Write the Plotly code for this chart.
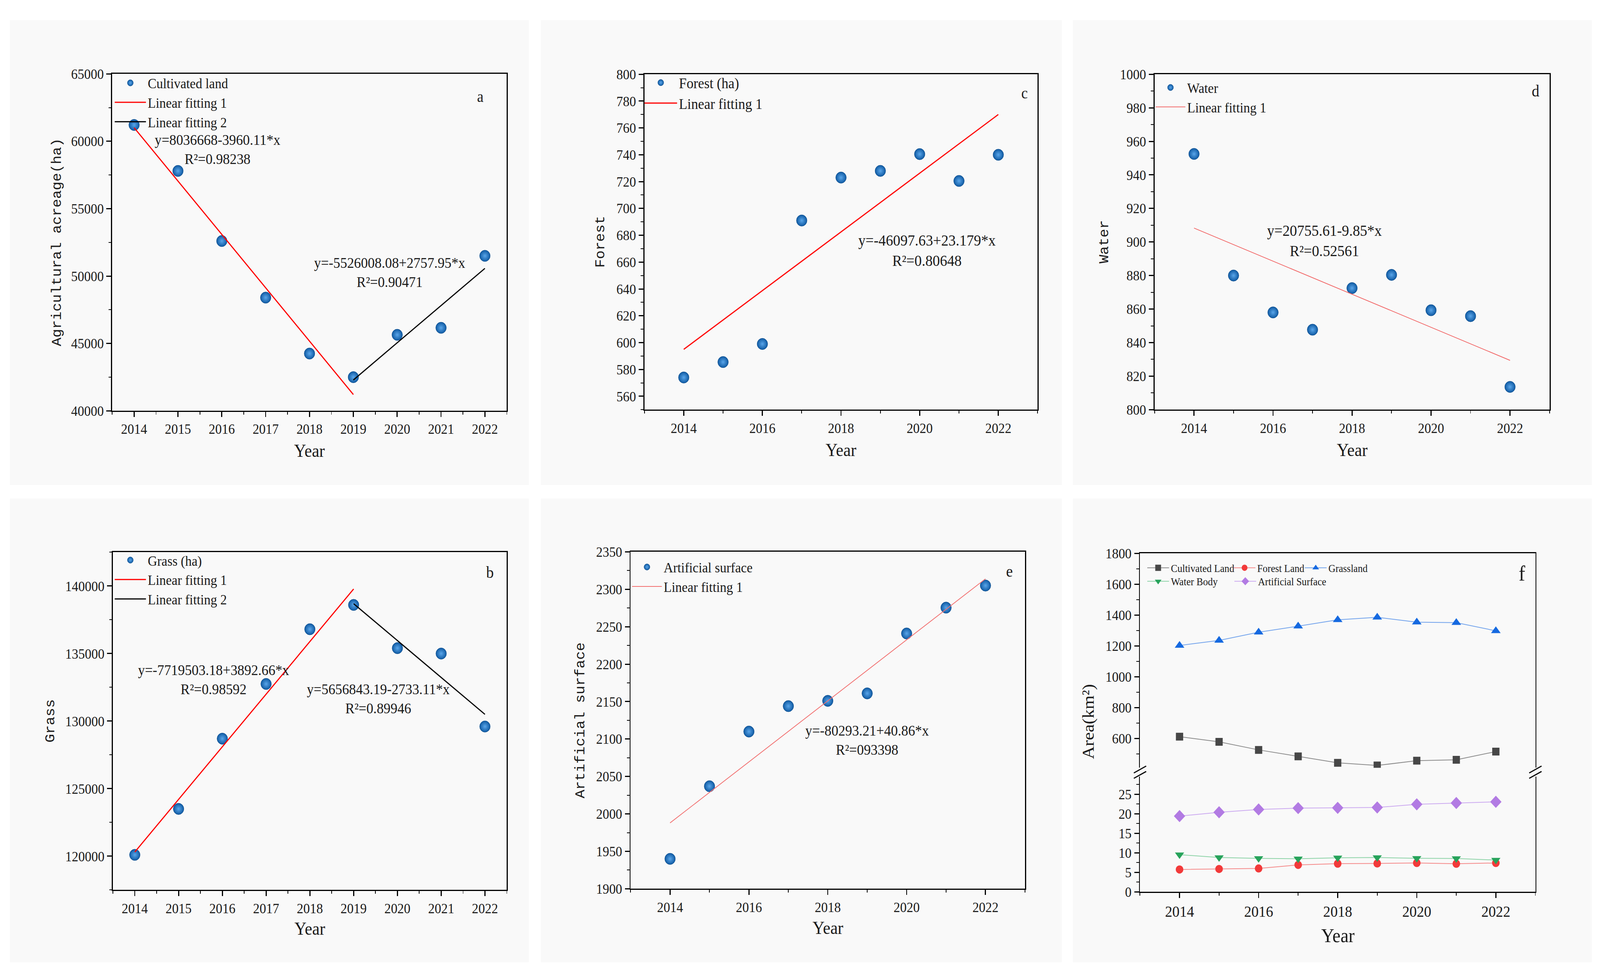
import plotly.graph_objects as go

W, H = 4407, 2510
SERIF = "Liberation Serif"
MONO = "Liberation Mono"
INK = "#1a1a1a"
DOT = "#0f5aa3"
DOT_GLOW = "#5aa6ea"
DOT_EDGE = "#0b4a88"

years = [2014, 2015, 2016, 2017, 2018, 2019, 2020, 2021, 2022]

# a - cultivated land (ha)
cultivated_ha = [61210, 57800, 52600, 48400, 44250, 42500, 45640, 46160, 51500]
cultivated_fit1_x = [2014, 2019]
cultivated_fit1_y = [61010, 41210]
cultivated_fit2_x = [2019, 2022]
cultivated_fit2_y = [42290, 50570]

# b - grass (ha)
grass_ha = [120100, 123500, 128700, 132750, 136800, 138600, 135400, 135000, 129600]
grass_fit1_x = [2014, 2019]
grass_fit1_y = [120310, 139780]
grass_fit2_x = [2019, 2022]
grass_fit2_y = [138690, 130500]

# c - forest (ha)
forest_ha = [574, 585.5, 599, 691, 723, 728, 740.5, 720.5, 740]
forest_fit_x = [2014, 2022]
forest_fit_y = [595, 770]

# d - water
water_ha = [952.5, 880, 858, 847.7, 872.5, 880.4, 859.3, 855.8, 813.6]
water_fit_x = [2014, 2022]
water_fit_y = [908.3, 829.4]

# e - artificial surface
artificial_ha = [1940, 2037, 2110, 2144, 2151, 2161, 2241, 2275.5, 2305]
artificial_fit_x = [2014, 2022]
artificial_fit_y = [1988, 2314]

# f - all classes in km2
f_cultivated = [612, 578, 526, 484, 442, 425, 456, 462, 515]
f_forest = [5.74, 5.86, 5.99, 6.91, 7.23, 7.28, 7.40, 7.20, 7.40]
f_grass = [1203, 1236, 1289, 1328, 1369, 1386, 1354, 1351, 1298]
f_water = [9.52, 8.80, 8.58, 8.48, 8.72, 8.80, 8.59, 8.56, 8.14]
f_artificial = [19.40, 20.37, 21.10, 21.44, 21.51, 21.61, 22.41, 22.75, 23.05]

# plot boxes in page pixels: left, right, top, bottom
BOX = {
    "a": (309, 1396, 173, 1050),
    "c": (1775, 2858, 174, 1047),
    "d": (3180, 4268, 174, 1047),
    "b": (311, 1396, 1418, 2297),
    "e": (1737, 2823, 1417, 2294),
    "f": (3140, 4229, 1421, 2302),
}
F_UPPER_BOTTOM = 1979
F_LOWER_TOP = 2002


def px(x):
    return x / W


def py(y):
    return 1 - y / H


def xdom(key):
    l, r, _, _ = BOX[key]
    return [px(l), px(r)]


def ydom(key):
    _, _, t, b = BOX[key]
    return [py(b), py(t)]


COMMON = dict(
    showline=True, linecolor="black", linewidth=3, mirror=True,
    ticks="outside", ticklen=13, tickwidth=3, tickcolor="black",
    showgrid=False, zeroline=False, tickformat="d",
    tickfont=dict(family=SERIF, size=36, color=INK),
)


def axis(rng, dtick, minor, tick0=0, **kw):
    opts = dict(COMMON)
    opts.update(
        range=rng, dtick=dtick, tick0=tick0,
        minor=dict(dtick=minor, tick0=tick0, ticks="outside", ticklen=7,
                   tickwidth=2, tickcolor="black"),
    )
    opts.update(kw)
    return opts


def dots(x, y, name, n, legend):
    return go.Scatter(
        x=x, y=y, mode="markers", name=name,
        xaxis=f"x{n}", yaxis=f"y{n}", legend=legend,
        marker=dict(size=29, color=DOT, line=dict(color=DOT_EDGE, width=1),
                    gradient=dict(type="radial", color=DOT_GLOW)),
    )


def fit(x, y, name, n, legend, color, width=3):
    return go.Scatter(
        x=x, y=y, mode="lines", name=name,
        xaxis=f"x{n}", yaxis=f"y{n}", legend=legend,
        line=dict(color=color, width=width),
    )


fig = go.Figure()

# a
fig.add_trace(dots(years, cultivated_ha, "Cultivated land", "", "legend"))
fig.add_trace(fit(cultivated_fit1_x, cultivated_fit1_y, "Linear fitting 1", "", "legend", "#ff0000"))
fig.add_trace(fit(cultivated_fit2_x, cultivated_fit2_y, "Linear fitting 2", "", "legend", "black"))
# c
fig.add_trace(dots(years, forest_ha, "Forest (ha)", 2, "legend2"))
fig.add_trace(fit(forest_fit_x, forest_fit_y, "Linear fitting 1", 2, "legend2", "#ff0000"))
# d
fig.add_trace(dots(years, water_ha, "Water", 3, "legend3"))
fig.add_trace(fit(water_fit_x, water_fit_y, "Linear fitting 1", 3, "legend3", "#f26b6b", 2))
# b
fig.add_trace(dots(years, grass_ha, "Grass (ha)", 4, "legend4"))
fig.add_trace(fit(grass_fit1_x, grass_fit1_y, "Linear fitting 1", 4, "legend4", "#ff0000"))
fig.add_trace(fit(grass_fit2_x, grass_fit2_y, "Linear fitting 2", 4, "legend4", "black"))
# e
fig.add_trace(dots(years, artificial_ha, "Artificial surface", 5, "legend5"))
fig.add_trace(fit(artificial_fit_x, artificial_fit_y, "Linear fitting 1", 5, "legend5", "#f27070", 2))

# f
f_series = [
    ("Cultivated Land", f_cultivated, 7, "square", 20, "#474747", "#8a8a8a", "legend6"),
    ("Forest Land", f_forest, 6, "circle", 21, "#f23a3a", "#f58a8a", "legend7"),
    ("Grassland", f_grass, 7, "triangle-up", 23, "#1569e0", "#72a3ec", "legend8"),
    ("Water Body", f_water, 6, "triangle-down", 22, "#27a35b", "#8dd3a7", "legend9"),
    ("Artificial Surface", f_artificial, 6, "diamond", 24, "#b27be3", "#ccaaf0", "legend10"),
]
for name, values, n, symbol, size, mcolor, lcolor, legend in f_series:
    fig.add_trace(go.Scatter(
        x=years, y=values, mode="lines+markers", name=name,
        xaxis=f"x{n}", yaxis=f"y{n}", legend=legend,
        line=dict(color=lcolor, width=2),
        marker=dict(symbol=symbol, size=size, color=mcolor, line=dict(width=0)),
    ))

layout = dict(
    width=W, height=H, autosize=False,
    margin=dict(l=0, r=0, t=0, b=0),
    paper_bgcolor="white", plot_bgcolor="rgba(0,0,0,0)",
    showlegend=True,
    font=dict(family=SERIF, color=INK),
)

year_axis_full = dict(rng=[2013.5, 2022.5], dtick=1, minor=0.5, tick0=2014)
year_axis_even = dict(rng=[2013, 2023], dtick=2, minor=1, tick0=2014)

layout["xaxis"] = axis(**year_axis_full, domain=xdom("a"), anchor="y")
layout["yaxis"] = axis([40000, 65000], 5000, 2500, domain=ydom("a"), anchor="x")
layout["xaxis2"] = axis(**year_axis_even, domain=xdom("c"), anchor="y2")
layout["yaxis2"] = axis([550, 800], 20, 10, domain=ydom("c"), anchor="x2")
layout["xaxis3"] = axis(**year_axis_even, domain=xdom("d"), anchor="y3")
layout["yaxis3"] = axis([800, 1000], 20, 10, domain=ydom("d"), anchor="x3")
layout["xaxis4"] = axis(**year_axis_full, domain=xdom("b"), anchor="y4")
layout["yaxis4"] = axis([117500, 142500], 5000, 2500, domain=ydom("b"), anchor="x4")
layout["xaxis5"] = axis(**year_axis_even, domain=xdom("e"), anchor="y5")
layout["yaxis5"] = axis([1900, 2350], 50, 25, domain=ydom("e"), anchor="x5")

# f: broken value axis, lower and upper parts
_, _, f_top, f_bottom = BOX["f"]
layout["xaxis6"] = axis(**year_axis_even, domain=xdom("f"), anchor="y6", mirror=False,
                        tickfont=dict(family=SERIF, size=40, color=INK))
layout["yaxis6"] = axis([0, 29.5], 5, 2.5, domain=[py(f_bottom), py(F_LOWER_TOP)], anchor="x6")
layout["xaxis7"] = dict(matches="x6", domain=xdom("f"), anchor="y7", side="top",
                        showline=True, linecolor="black", linewidth=3, ticks="",
                        showticklabels=False, showgrid=False, zeroline=False)
layout["yaxis7"] = axis([410, 1800], 200, 100, domain=[py(F_UPPER_BOTTOM), py(f_top)], anchor="x7")


def legend_at(x, y, size=36, itemwidth=86):
    return dict(
        x=px(x), y=py(y), xanchor="left", yanchor="top",
        bgcolor="rgba(0,0,0,0)", borderwidth=0, tracegroupgap=0,
        itemwidth=itemwidth, font=dict(family=SERIF, size=size, color=INK),
    )


layout["legend"] = legend_at(311, 166)
layout["legend2"] = legend_at(1770, 164, size=38, itemwidth=90)
layout["legend3"] = legend_at(3178, 178, itemwidth=82)
layout["legend4"] = legend_at(311, 1408)
layout["legend5"] = legend_at(1736, 1426, itemwidth=82)
layout["legend6"] = legend_at(3155, 1434, size=27, itemwidth=60)
layout["legend7"] = legend_at(3393, 1434, size=27, itemwidth=60)
layout["legend8"] = legend_at(3589, 1434, size=27, itemwidth=60)
layout["legend9"] = legend_at(3155, 1469, size=27, itemwidth=60)
layout["legend10"] = legend_at(3395, 1469, size=27, itemwidth=60)

fig.update_layout(**layout)

# panel backgrounds
for x0, x1 in [(27, 1457), (1490, 2925), (2955, 4385)]:
    for y0, y1 in [(33, 1243), (1278, 2485)]:
        fig.add_shape(type="rect", xref="paper", yref="paper", layer="below",
                      x0=px(x0), x1=px(x1), y0=py(y1), y1=py(y0),
                      fillcolor="#f9f9f9", line=dict(width=0))

# axis break marks on panel f
f_left, f_right = BOX["f"][0], BOX["f"][1]
yc = (F_UPPER_BOTTOM + F_LOWER_TOP) / 2
for xc in (f_left, f_right):
    for off in (-7, 7):
        fig.add_shape(type="line", xref="paper", yref="paper",
                      x0=px(xc - 17), y0=py(yc + off + 9),
                      x1=px(xc + 17), y1=py(yc + off - 9),
                      line=dict(color="black", width=3))


def note(text, xref, yref, x, y, size=38, angle=0, family=SERIF):
    fig.add_annotation(text=text, xref=xref, yref=yref, x=x, y=y, showarrow=False,
                       xanchor="center", yanchor="middle", align="center", textangle=angle,
                       font=dict(family=family, size=size, color=INK))


# fitted equations
note("y=8036668-3960.11*x<br>R²=0.98238", "x", "y", 2015.9, 59400)
note("y=-5526008.08+2757.95*x<br>R²=0.90471", "x", "y", 2019.83, 50270)
note("y=-46097.63+23.179*x<br>R²=0.80648", "x2", "y2", 2020.18, 668.6, size=40)
note("y=20755.61-9.85*x<br>R²=0.52561", "x3", "y3", 2017.3, 900.7, size=40)
note("y=-7719503.18+3892.66*x<br>R²=0.98592", "x4", "y4", 2015.8, 133066)
note("y=5656843.19-2733.11*x<br>R²=0.89946", "x4", "y4", 2019.56, 131650)
note("y=-80293.21+40.86*x<br>R²=093398", "x5", "y5", 2019.0, 2098.8)

# panel letters
for letter, xr, yr, fx, fy, size in [
    ("a", "x domain", "y domain", 0.933, 0.932, 40),
    ("c", "x2 domain", "y2 domain", 0.967, 0.944, 40),
    ("d", "x3 domain", "y3 domain", 0.965, 0.950, 42),
    ("b", "x4 domain", "y4 domain", 0.957, 0.940, 42),
    ("e", "x5 domain", "y5 domain", 0.961, 0.942, 42),
]:
    note(letter, xr, yr, fx, fy, size=size)
note("f", "x6 domain", "paper", 0.966, py(BOX["f"][2] + 52), size=54)


# axis titles
def ytitle(text, x, box, size=37, family=MONO):
    _, _, t, b = BOX[box]
    note(text, "paper", "paper", px(x), py((t + b) / 2), size=size, angle=-90, family=family)


def xtitle(text, box, y, size=46):
    l, r, _, _ = BOX[box]
    note(text, "paper", "paper", px((l + r) / 2), py(y), size=size)


ytitle("Agricultural acreage(ha)", 158, "a")
ytitle("Forest", 1654, "c")
ytitle("Water", 3042, "d")
ytitle("Grass", 139, "b")
ytitle("Artificial surface", 1599, "e")
note("Area(km²)", "paper", "paper", px(2997), py(1859), size=46, angle=-90)
for box, y in [("a", 1154), ("c", 1152), ("d", 1152), ("b", 2398), ("e", 2396)]:
    xtitle("Year", box, y)
xtitle("Year", "f", 2415, size=50)

# stretch the page so it fills the browser window whatever its css size is
fit_page = (
    "var gd=document.getElementById('{plot_id}');"
    "document.body.style.margin='0';document.body.style.overflow='hidden';"
    "var sx=window.innerWidth/" + str(W) + ",sy=window.innerHeight/" + str(H) + ";"
    "gd.style.transformOrigin='0 0';gd.style.transform='scale('+sx+','+sy+')';"
)

fig.write_html("out.html", post_script=fit_page, config={"displayModeBar": False})
